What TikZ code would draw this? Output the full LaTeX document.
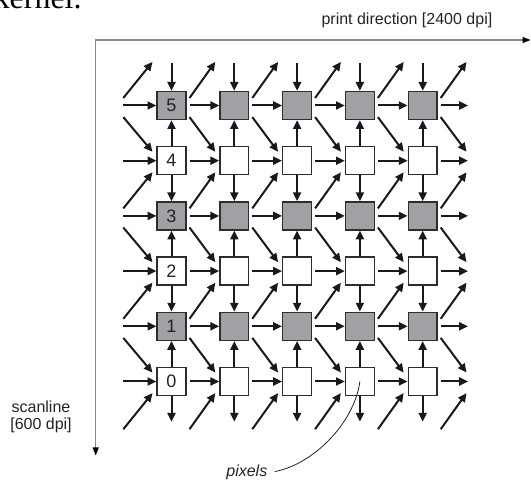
\documentclass[tikz,border=0pt]{standalone}
\usepackage{fontspec}
\setmainfont{Liberation Sans}
\newfontfamily\pageserif{Liberation Serif}
\usepackage{tikz}
\usetikzlibrary{arrows.meta, positioning}
\definecolor{cPix}{RGB}{160,161,164}
\definecolor{cEdge}{RGB}{45,45,45}
\definecolor{cAxis}{RGB}{135,135,135}
\definecolor{cText}{RGB}{35,35,35}
\tikzset{
	pixon/.style ={rectangle, draw=cEdge, line width=0.7pt, fill=cPix, minimum width=14.4pt, minimum height=14pt, inner sep=0pt, font=\fontsize{9}{9}\selectfont, text=cText},
	pixoff/.style={pixon, fill=white},
	flow/.style  ={-{Triangle[length=4.4pt,width=4pt]}, line width=1pt, black!90},
	axis/.style  ={{Triangle[length=4pt,width=3pt,color=black]}-{Triangle[length=4pt,width=3pt,color=black]}, line width=0.6pt, cAxis},
	lbl/.style   ={font=\fontsize{8}{8.3}\selectfont, text=cText, inner sep=0pt},
	leader/.style={line width=0.4pt, cText},
}

\begin{document}
\begin{tikzpicture}[x=0.5pt, y=-0.5pt]
	\useasboundingbox (0,0) rectangle (531,485);
	\clip (0,0) rectangle (531,485);
	% line of the page text, cut off above the figure
	\node[anchor=base east, inner sep=0pt, font=\pageserif\fontsize{16}{16}\selectfont] (kernel) at (82,9) {kernel.};
	% axes
	\coordinate (origin) at (95.7,40);
	\coordinate (xend) at (530.5,40);
	\coordinate (yend) at (95.7,455.5);
	\draw[axis] (xend) -- (origin) -- (yend);
	\node[lbl, anchor=base east] (xlabel) at (492.7,25) {print direction [2400 dpi]};
	\node[lbl, align=center] (ylabel) at (41,417) {scanline\\{[600 dpi]}};
	% pixels: odd rows grey, even rows white
	\foreach \i in {1,...,5}{
		\foreach \j in {0,...,5}{
			\pgfmathsetmacro{\px}{171.5+62.8*(\i-1)}
			\pgfmathsetmacro{\py}{381.5-55.2*\j}
			\ifodd\j \def\pstyle{pixon}\else \def\pstyle{pixoff}\fi
			\ifnum\i=1 \edef\ptext{\j}\else \def\ptext{}\fi
			\node[\pstyle] (p-\i-\j) at (\px,\py) {\ptext};
		}
	}
	% vertical arrows
	\foreach \i in {1,...,5}{
		\pgfmathsetmacro{\px}{171.5+62.8*(\i-1)}
		\coordinate (t-\i) at (\px,63);
		\coordinate (b-\i) at (\px,421.7);
		\draw[flow] (t-\i) -- (p-\i-5);
		\draw[flow] (p-\i-0) -- (b-\i);
		\foreach \w in {0,2,4}{
			\pgfmathtruncatemacro{\up}{\w+1}
			\draw[flow] (p-\i-\w) -- (p-\i-\up);
		}
		\foreach \w in {2,4}{
			\pgfmathtruncatemacro{\dn}{\w-1}
			\draw[flow] (p-\i-\w) -- (p-\i-\dn);
		}
	}
	% horizontal arrows
	\foreach \j in {0,...,5}{
		\pgfmathsetmacro{\py}{381.5-55.2*\j}
		\coordinate (hl-\j) at (123.3,\py);
		\coordinate (hr-\j) at (468,\py);
		\draw[flow] (hl-\j) -- (p-1-\j);
		\draw[flow, shorten <=1.5pt] (p-5-\j) -- (hr-\j);
		\foreach \i [count=\k from 2] in {1,...,4}{
			\draw[flow, shorten <=1.5pt] (p-\i-\j) -- (p-\k-\j);
		}
	}
	% diagonal arrows, grey rows to white rows
	\foreach \g in {1,...,6}{
		\pgfmathsetmacro{\xl}{\g==1 ? 123.3 : 171.5+62.8*(\g-2)+18}
		\pgfmathsetmacro{\xr}{171.5+62.8*(\g-1)-19}
		\foreach \r in {-1,1,3,5}{
			\pgfmathsetmacro{\yr}{381.5-55.2*\r}
			\coordinate (ua-\g-\r) at (\xl,\yr-7.5);
			\coordinate (ub-\g-\r) at (\xr,\yr-55.2+11.6);
			\draw[flow] (ua-\g-\r) -- (ub-\g-\r);
		}
		\foreach \r in {1,3,5}{
			\pgfmathsetmacro{\yr}{381.5-55.2*\r}
			\coordinate (da-\g-\r) at (\xl,\yr+11.6);
			\coordinate (db-\g-\r) at (\xr,\yr+55.2-8.9);
			\draw[flow] (da-\g-\r) -- (db-\g-\r);
		}
	}
	% label
	\node[lbl, font=\itshape\fontsize{8}{8}\selectfont, anchor=base west] (pixels) at (226,477) {pixels};
	\draw[leader, shorten <=3.6pt] (pixels.east) .. controls +(44,-8) and +(-6,43) .. (p-4-0.center);
\end{tikzpicture}
\end{document}
